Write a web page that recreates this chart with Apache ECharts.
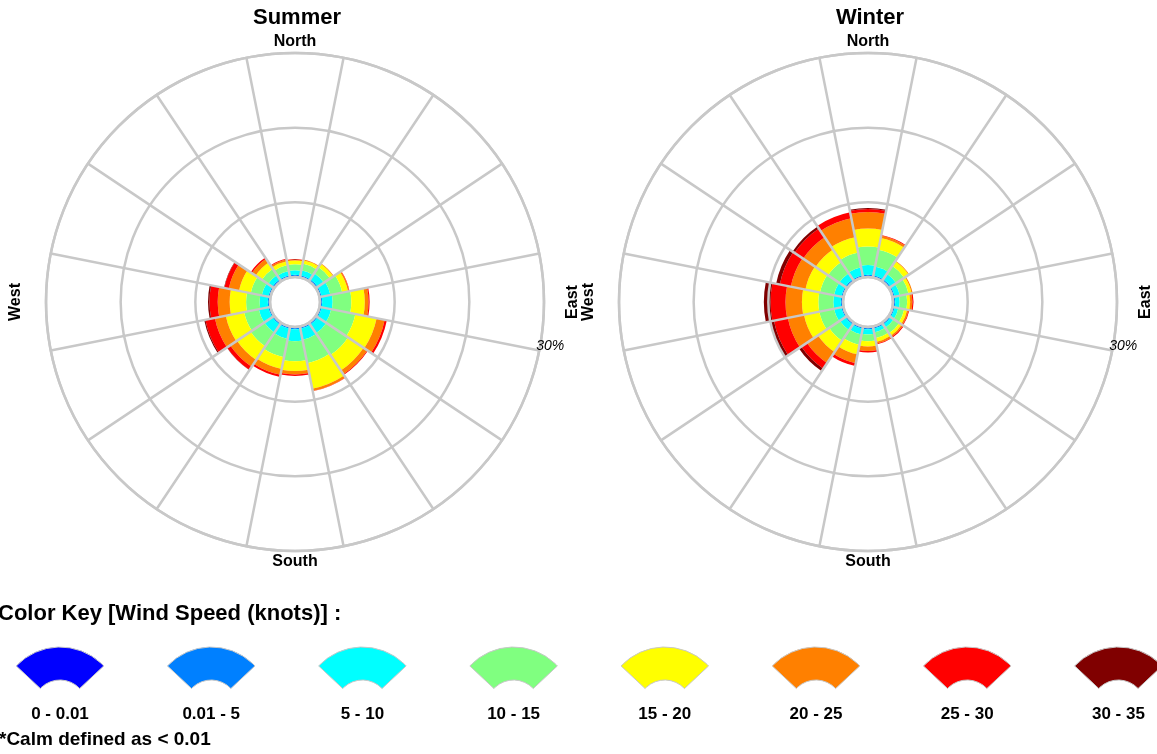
<!DOCTYPE html>
<html>
<head>
<meta charset="utf-8">
<script src="https://cdn.jsdelivr.net/npm/echarts@6/dist/echarts.min.js"></script>
<style>
html,body{margin:0;padding:0;background:#ffffff;}
#chart{width:1157px;height:754px;}
</style>
</head>
<body>
<div id="chart"></div>
<script>
// ---------- data ----------
const directions = ['N','NNE','NE','ENE','E','ESE','SE','SSE','S','SSW','SW','WSW','W','WNW','NW','NNW'];
const speedBins = ['0 - 0.01','0.01 - 5','5 - 10','10 - 15','15 - 20','20 - 25','25 - 30','30 - 35'];
const binColors = ['#0000ff','#0080ff','#00ffff','#80ff80','#ffff00','#ff8000','#ff0000','#800000'];
const seasons = ['Summer','Winter'];
const radialTicks = [0, 10, 20, 30];
const outerLabel = '30%';

// percent frequency per direction (N..NNW), per wind speed bin
const summerCalm   = [0,0,0,0,0,0,0,0,0,0,0,0,0,0,0,0];
const summer0to5   = [0.3,0.3,0.3,0.3,0.3,0.3,0.3,0.3,0.3,0.3,0.3,0.3,0.3,0.3,0.3,0.3];
const summer5to10  = [0.6,0.7,1.0,1.2,1.4,1.3,1.4,1.5,1.6,1.4,1.3,1.3,1.1,0.9,0.7,0.6];
const summer10to15 = [0.8,0.9,1.0,1.6,2.5,3.3,3.5,3.2,2.7,2.5,2.2,2.0,1.8,1.5,1.0,0.8];
const summer15to20 = [0.5,0.45,0.5,0.8,1.8,2.9,2.5,3.5,1.3,1.6,2.2,2.5,2.2,1.6,1.0,0.5];
const summer20to25 = [0.15,0.1,0.1,0.15,0.5,1.1,0.6,0.3,0.45,0.8,1.1,1.5,1.6,1.4,0.6,0.25];
const summer25to30 = [0.05,0,0,0.05,0.15,0.3,0.1,0.05,0.2,0.3,0.5,1.3,1.1,0.6,0.2,0.1];
const summer30to35 = [0,0,0,0,0,0,0,0,0,0,0.05,0.15,0.2,0.05,0,0];

const winterCalm   = [0,0,0,0,0,0,0,0,0,0,0,0,0,0,0,0];
const winter0to5   = [0.3,0.3,0.3,0.3,0.3,0.3,0.3,0.3,0.3,0.3,0.3,0.3,0.3,0.3,0.3,0.3];
const winter5to10  = [1.3,1.2,0.9,0.7,0.6,0.5,0.5,0.5,0.7,0.8,0.9,1.0,1.0,1.0,1.0,1.1];
const winter10to15 = [2.5,2.3,1.3,1.2,1.0,0.8,0.9,0.8,0.9,1.4,1.7,2.0,2.0,1.9,1.8,2.0];
const winter15to20 = [2.4,1.6,0.7,0.4,0.4,0.4,0.4,0.5,0.7,1.3,1.8,2.1,2.2,2.0,2.0,2.1];
const winter20to25 = [2.2,0.3,0.1,0.15,0.3,0.2,0.2,0.25,0.6,1.2,1.8,2.2,2.2,2.0,2.0,2.6];
const winter25to30 = [0.4,0.1,0,0,0.15,0.1,0.15,0.1,0.2,0.4,0.9,1.9,2.0,1.5,1.4,0.8];
const winter30to35 = [0.15,0,0,0,0,0,0,0,0,0,0.4,0.5,0.9,0.5,0.3,0];

const summerBins = [summerCalm,summer0to5,summer5to10,summer10to15,summer15to20,summer20to25,summer25to30,summer30to35];
const winterBins = [winterCalm,winter0to5,winter5to10,winter10to15,winter15to20,winter20to25,winter25to30,winter30to35];

// ---------- layout ----------
const FONT = '"Liberation Sans", Arial, Helvetica, sans-serif';
const GRID = '#c8c8c8';
const centers = [[295, 302], [868, 302]];
const R0 = 25, R1 = 249;
const sector = 360 / directions.length;

const polar = centers.map(c => ({ center: c, radius: [R0, R1] }));
const angleAxis = centers.map((c, i) => ({
  polarIndex: i, type: 'category', data: directions, startAngle: 90 + sector / 2,
  clockwise: true, boundaryGap: true, z: 10,
  axisLine: { show: true, lineStyle: { color: GRID, width: 2.5 } },
  axisTick: { show: false }, axisLabel: { show: false },
  splitLine: { show: true, lineStyle: { color: GRID, width: 2.5 } },
  splitArea: { show: false }
}));
const radiusAxis = centers.map((c, i) => ({
  polarIndex: i, type: 'value', min: radialTicks[0], max: radialTicks[radialTicks.length - 1],
  interval: radialTicks[1] - radialTicks[0], z: 10,
  axisLine: { show: false }, axisTick: { show: false }, axisLabel: { show: false },
  splitLine: { show: true, lineStyle: { color: GRID, width: 2.5 } }
}));

const series = [];
[summerBins, winterBins].forEach((bins, s) => {
  bins.forEach((arr, b) => {
    series.push({
      type: 'bar', coordinateSystem: 'polar', polarIndex: s,
      name: seasons[s] + ' ' + speedBins[b], stack: 'stack' + s,
      data: arr, barCategoryGap: '0%', silent: true,
      itemStyle: { color: binColors[b] }
    });
  });
});

// ---------- texts and key ----------
const graphics = [];
function txt(x, y, text, font, opts) {
  graphics.push(Object.assign({
    type: 'text', x: x, y: y, silent: true, z: 20,
    style: Object.assign({ text: text, font: font, fill: '#000',
      align: 'center', verticalAlign: 'middle', textAlign: 'center', textVerticalAlign: 'middle' }, (opts && opts.style) || {})
  }, (opts && opts.el) || {}));
}
centers.forEach((c, i) => {
  const cx = c[0], cy = c[1];
  txt(cx + 2, 18, seasons[i], 'bold 22px ' + FONT);
  txt(cx, 42, 'North', 'bold 16px ' + FONT);
  txt(cx, 562, 'South', 'bold 16px ' + FONT);
  txt(cx - R1 - 30, cy, 'West', 'bold 16px ' + FONT, { el: { rotation: Math.PI / 2 } });
  txt(cx + R1 + 29, cy, 'East', 'bold 16px ' + FONT, { el: { rotation: Math.PI / 2 } });
  const a = (sector / 2) * Math.PI / 180;
  txt(cx + R1 * Math.cos(a) - 3, cy + R1 * Math.sin(a) - 4, outerLabel, 'italic 14px ' + FONT,
      { style: { align: 'left', textAlign: 'left' } });
});

txt(-2, 614, 'Color Key [Wind Speed (knots)] :', 'bold 22px ' + FONT, { style: { align: 'left', textAlign: 'left' } });
txt(-1, 740, '*Calm defined as < 0.01', 'bold 19px ' + FONT, { style: { align: 'left', textAlign: 'left' } });
const keyStart = 60, keyStep = 151.2, half = 46.8 * Math.PI / 180;
speedBins.forEach((lab, i) => {
  const x = keyStart + i * keyStep;
  graphics.push({
    type: 'sector', silent: true, z: 20,
    shape: { cx: x, cy: 707, r0: 27, r: 60, startAngle: -Math.PI / 2 - half, endAngle: -Math.PI / 2 + half, clockwise: true },
    style: { fill: binColors[i], stroke: '#c8c8c8', lineWidth: 1 }
  });
  txt(x, 714, lab, 'bold 17px ' + FONT);
});

const chart = echarts.init(document.getElementById('chart'), null, { renderer: 'canvas' });
chart.setOption({
  animation: false,
  backgroundColor: '#ffffff',
  polar: polar,
  angleAxis: angleAxis,
  radiusAxis: radiusAxis,
  series: series,
  graphic: { elements: graphics }
});
</script>
</body>
</html>
